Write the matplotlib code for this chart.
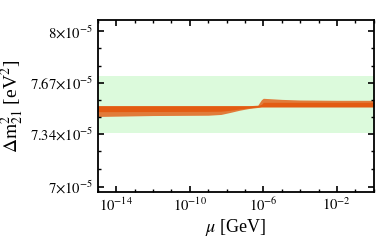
import numpy as np
import matplotlib
matplotlib.use("Agg")
import matplotlib.pyplot as plt
from matplotlib.ticker import NullFormatter

plt.rcParams['font.family'] = 'Liberation Serif'
plt.rcParams['mathtext.fontset'] = 'stix'

# log10(mu/GeV) sample points for the band edges
log_mu = [-15.0, -12.0, -9.0, -8.3, -7.8, -7.3, -6.8, -6.3, -6.1, -6.0, -5.0, -4.0, -3.0, -2.0, 0.0]
# dense core of the points (units of 1e-5 eV^2)
core_lo = [7.483, 7.484, 7.485, 7.486, 7.492, 7.500, 7.507, 7.513, 7.515, 7.515, 7.515, 7.515, 7.515, 7.515, 7.515]
core_hi = [7.521, 7.521, 7.521, 7.521, 7.521, 7.521, 7.521, 7.522, 7.530, 7.543, 7.543, 7.543, 7.543, 7.543, 7.543]
# sparse fringe of the points
fringe_lo = [7.452, 7.458, 7.460, 7.465, 7.478, 7.492, 7.503, 7.510, 7.513, 7.513, 7.513, 7.513, 7.513, 7.513, 7.513]
fringe_hi = [7.521, 7.521, 7.521, 7.521, 7.521, 7.521, 7.521, 7.525, 7.560, 7.569, 7.562, 7.558, 7.557, 7.556, 7.556]

band_lo, band_hi = 7.345, 7.71  # allowed range (1e-5 eV^2)

yticks = [7.0, 7.34, 7.67, 8.0]
yticklabels = [r'$7{\times}10^{-5}$', r'$7.34{\times}10^{-5}$', r'$7.67{\times}10^{-5}$', r'$8{\times}10^{-5}$']
xticks_exp = [-14, -10, -6, -2]

orange = '#e35b12'

fig = plt.figure(figsize=(3.82, 2.42), dpi=100)
ax = fig.add_axes([0.2558, 0.2054, 0.7225, 0.7107])

mu = 10.0 ** np.array(log_mu)
ax.axhspan(band_lo, band_hi, color='#dcfadc', lw=0, zorder=0)
ax.fill_between(mu, fringe_lo, fringe_hi, color=orange, alpha=0.8, lw=0, zorder=1)
ax.fill_between(mu, core_lo, core_hi, color=orange, lw=0, zorder=2)

ax.set_xscale('log')
ax.set_xlim(1e-15, 1.0)
ax.set_ylim(6.964, 8.071)

ax.set_xticks([10.0 ** e for e in xticks_exp])
ax.set_xticklabels([r'$10^{%d}$' % e for e in xticks_exp])
ax.set_xticks([10.0 ** e for e in range(-15, 1)], minor=True)
ax.xaxis.set_minor_formatter(NullFormatter())
ax.set_yticks(yticks)
ax.set_yticklabels(yticklabels)
minor_y = []
for a, b in zip(yticks[:-1], yticks[1:]):
    minor_y += [a + (b - a) / 3, a + 2 * (b - a) / 3]
ax.set_yticks(minor_y, minor=True)

ax.tick_params(which='both', direction='in', top=True, right=True, labelsize=10.5, pad=3)
ax.tick_params(which='major', length=4, width=1.2)
ax.tick_params(which='minor', length=2.5, width=1.0)
for s in ax.spines.values():
    s.set_linewidth(1.3)

ax.set_xlabel(r'$\mu$ [GeV]', fontsize=13, labelpad=2)
ax.set_ylabel(r'$\Delta\mathrm{m}^2_{21}$ [eV$^2$]', fontsize=14, labelpad=3)

fig.savefig('out.png', dpi=100)
